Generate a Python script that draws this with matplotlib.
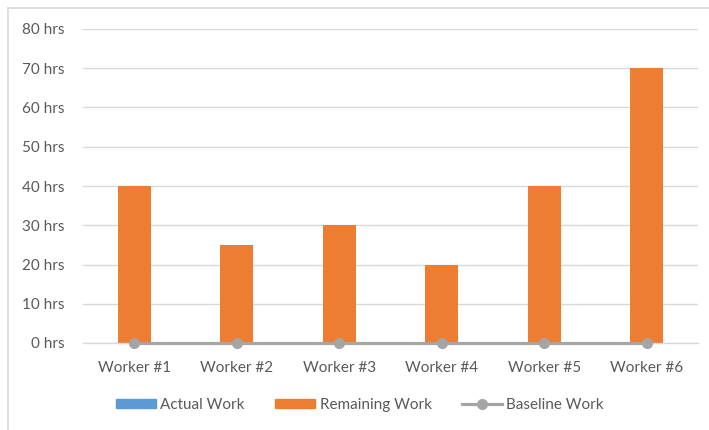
import matplotlib
matplotlib.use("Agg")
import matplotlib.pyplot as plt
import numpy as np
from matplotlib.lines import Line2D

categories = ["Worker #1", "Worker #2", "Worker #3", "Worker #4", "Worker #5", "Worker #6"]
actual_work = [0, 0, 0, 0, 0, 0]
remaining_work = [40, 25, 30, 20, 40, 70]
baseline_work = [0, 0, 0, 0, 0, 0]
y_ticks = [0, 10, 20, 30, 40, 50, 60, 70, 80]
y_tick_labels = [f"{v} hrs" for v in y_ticks]

plt.rcParams['font.family'] = ['Lato', 'DejaVu Sans']
text_color = "#595959"
blue = "#5B9BD5"
orange = "#ED7D31"
grey = "#A5A5A5"

fig = plt.figure(figsize=(7.09, 4.30), dpi=100)
W, H = 709, 430
ax = fig.add_axes([83 / W, (H - 343) / H, (698 - 83) / W, (343 - 29) / H])

x = np.arange(len(categories))
bw = 0.32
ax.bar(x, actual_work, width=bw, color=blue, label="Actual Work", zorder=2)
ax.bar(x, remaining_work, width=bw, bottom=actual_work, color=orange, label="Remaining Work", zorder=2)
ax.plot(x, baseline_work, color=grey, lw=2.3, marker='o', markersize=7, label="Baseline Work", zorder=3, clip_on=False)

ax.set_xlim(-0.5, len(categories) - 0.5)
ax.set_ylim(0, 80)
ax.set_yticks(y_ticks)
ax.set_yticklabels(y_tick_labels)
ax.set_xticks(x)
ax.set_xticklabels(categories)
ax.grid(axis='y', color="#D9D9D9", lw=1, zorder=0)
ax.set_axisbelow(True)
for s in ['top', 'right', 'left']:
    ax.spines[s].set_visible(False)
ax.spines['bottom'].set_color("#D9D9D9")
ax.spines['bottom'].set_linewidth(1)
ax.tick_params(axis='both', length=0, colors=text_color, labelsize=11)
ax.tick_params(axis='y', pad=13)
ax.tick_params(axis='x', pad=13)

handles = [
    plt.Rectangle((0, 0), 1, 1, color=blue),
    plt.Rectangle((0, 0), 1, 1, color=orange),
    Line2D([0], [0], color=grey, lw=2.3, marker='o', markersize=7),
]
leg = fig.legend(handles, ["Actual Work", "Remaining Work", "Baseline Work"], ncol=3,
                 loc='center', bbox_to_anchor=(360 / W, 1 - 405 / H), frameon=False,
                 fontsize=11, handlelength=2.6, handleheight=0.55, columnspacing=2.0,
                 handletextpad=0.3)
for t in leg.get_texts():
    t.set_color(text_color)

# chart border (top and left visible)
fig.add_artist(Line2D([8 / W, 8 / W], [0, 1 - 8 / H], color="#D9D9D9", lw=1.2, transform=fig.transFigure))
fig.add_artist(Line2D([8 / W, 1], [1 - 8 / H, 1 - 8 / H], color="#D9D9D9", lw=1.2, transform=fig.transFigure))

fig.savefig("out.png", dpi=100)
